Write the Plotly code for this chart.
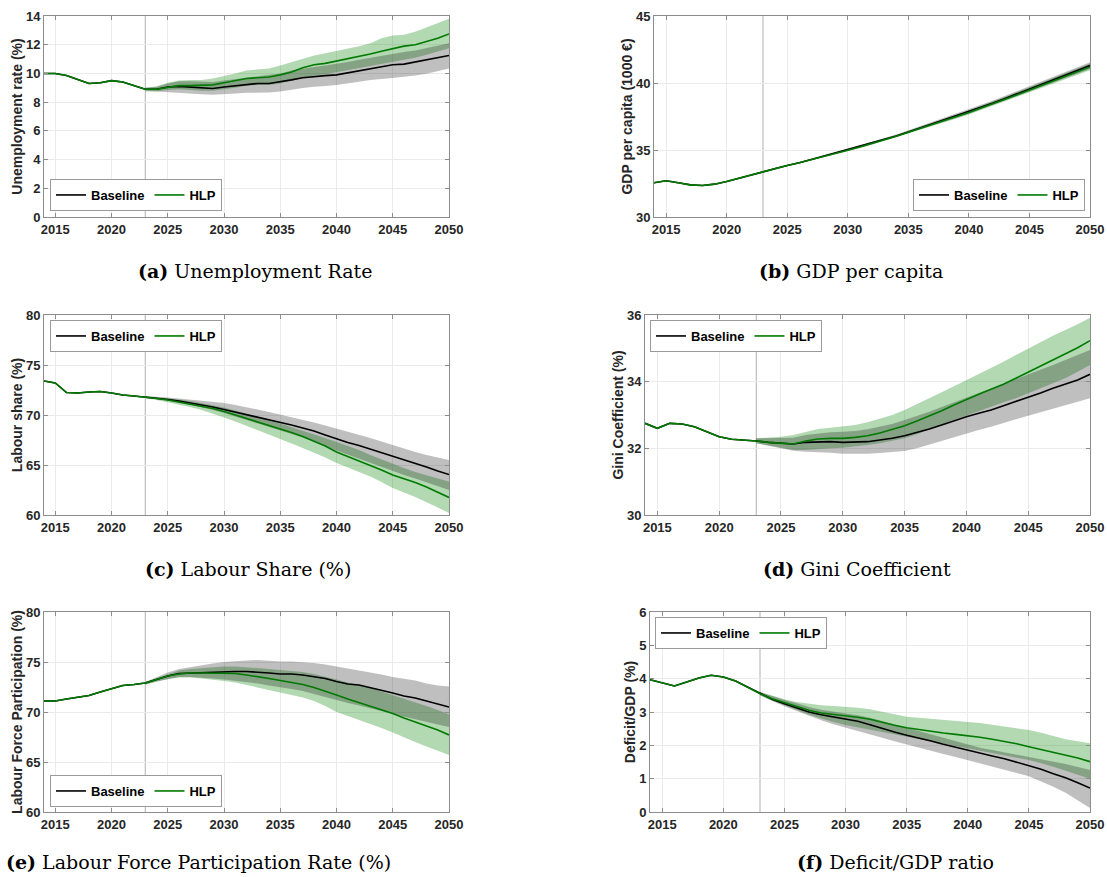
import plotly.graph_objects as go

W, H = 1107, 877

years = list(range(2014, 2051))
band_years = list(range(2023, 2051))

# ---------------- (a) Unemployment rate ----------------
unemp_base = [10.0, 10.0, 9.85, 9.55, 9.3, 9.35, 9.5, 9.4, 9.15, 8.9,
              8.9, 9.05, 9.1, 9.05, 8.95, 8.95, 9.05, 9.15, 9.25, 9.3, 9.3, 9.4, 9.55, 9.7,
              9.8, 9.85, 9.9, 10.05, 10.2, 10.35, 10.45, 10.6, 10.65, 10.8, 10.95, 11.1, 11.25]
unemp_hlp = [10.0, 10.0, 9.85, 9.55, 9.3, 9.35, 9.5, 9.4, 9.15, 8.9,
             8.9, 9.05, 9.15, 9.15, 9.15, 9.2, 9.35, 9.5, 9.65, 9.7, 9.75, 9.9, 10.1, 10.4,
             10.6, 10.7, 10.85, 11.0, 11.15, 11.35, 11.55, 11.75, 11.9, 12.0, 12.2, 12.45, 12.75]
unemp_base_lo = [8.8, 8.75, 8.72, 8.65, 8.6, 8.55, 8.52, 8.55, 8.6, 8.65, 8.68, 8.68, 8.75, 8.85,
                 8.98, 9.08, 9.12, 9.2, 9.3, 9.42, 9.55, 9.62, 9.68, 9.75, 9.85, 9.98, 10.15, 10.35]
unemp_base_hi = [9.0, 9.05, 9.3, 9.45, 9.45, 9.4, 9.4, 9.5, 9.6, 9.75, 9.85, 9.9, 10.0, 10.2,
                 10.35, 10.45, 10.55, 10.65, 10.8, 10.95, 11.1, 11.25, 11.4, 11.5, 11.6, 11.75, 11.9, 12.1]
unemp_hlp_lo = [8.75, 8.75, 8.85, 8.9, 8.85, 8.8, 8.8, 8.9, 9.0, 9.15, 9.2, 9.2, 9.3, 9.5,
                9.7, 9.85, 9.95, 10.05, 10.2, 10.35, 10.5, 10.65, 10.8, 10.95, 11.1, 11.3, 11.5, 11.75]
unemp_hlp_hi = [9.0, 9.1, 9.35, 9.5, 9.55, 9.55, 9.65, 9.8, 10.0, 10.2, 10.3, 10.35, 10.55, 10.8,
                11.05, 11.25, 11.4, 11.55, 11.7, 11.9, 12.1, 12.45, 12.65, 12.7, 12.9, 13.2, 13.5, 13.8]

# ---------------- (b) GDP per capita ----------------
gdp_base = [32.55, 32.7, 32.55, 32.4, 32.35, 32.45, 32.65, 32.9, 33.15, 33.4,
            33.65, 33.85, 34.05, 34.3, 34.5, 34.75, 35.0, 35.25, 35.5, 35.8, 36.05, 36.35, 36.65, 36.95,
            37.25, 37.55, 37.85, 38.2, 38.5, 38.85, 39.2, 39.55, 39.9, 40.25, 40.6, 40.95, 41.3]
gdp_hlp = [32.55, 32.7, 32.55, 32.4, 32.35, 32.45, 32.65, 32.9, 33.15, 33.4,
           33.65, 33.85, 34.05, 34.28, 34.48, 34.73, 34.98, 35.23, 35.48, 35.77, 36.02, 36.32, 36.61, 36.91,
           37.21, 37.5, 37.8, 38.14, 38.44, 38.79, 39.13, 39.48, 39.83, 40.17, 40.52, 40.86, 41.2]
gdp_base_lo = [33.38, 33.62, 33.82, 34.01, 34.25, 34.45, 34.69, 34.93, 35.17, 35.42, 35.71, 35.95, 36.24, 36.54,
               36.83, 37.12, 37.41, 37.7, 38.04, 38.33, 38.67, 39.01, 39.35, 39.69, 40.03, 40.37, 40.71, 41.05]
gdp_base_hi = [33.42, 33.68, 33.88, 34.09, 34.35, 34.56, 34.81, 35.07, 35.33, 35.59, 35.9, 36.16, 36.47, 36.78,
               37.09, 37.4, 37.71, 38.02, 38.38, 38.69, 39.05, 39.41, 39.77, 40.13, 40.49, 40.85, 41.21, 41.55]
gdp_hlp_lo = [33.38, 33.62, 33.82, 34.01, 34.23, 34.43, 34.67, 34.91, 35.15, 35.4, 35.68, 35.92, 36.21, 36.5,
              36.79, 37.08, 37.36, 37.65, 37.98, 38.27, 38.61, 38.94, 39.28, 39.62, 39.95, 40.29, 40.62, 40.95]
gdp_hlp_hi = [33.42, 33.68, 33.88, 34.09, 34.33, 34.54, 34.79, 35.05, 35.31, 35.57, 35.86, 36.12, 36.43, 36.73,
              37.04, 37.34, 37.65, 37.95, 38.3, 38.62, 38.97, 39.33, 39.69, 40.05, 40.4, 40.76, 41.11, 41.45]

# ---------------- (c) Labour share ----------------
ls_base = [73.4, 73.2, 72.25, 72.2, 72.3, 72.35, 72.2, 72.0, 71.9, 71.8,
           71.7, 71.55, 71.4, 71.2, 71.05, 70.8, 70.55, 70.3, 70.05, 69.8, 69.55, 69.3, 69.0, 68.7,
           68.4, 68.0, 67.6, 67.25, 66.95, 66.6, 66.2, 65.85, 65.5, 65.15, 64.8, 64.4, 64.05]
ls_hlp = [73.4, 73.2, 72.25, 72.2, 72.3, 72.35, 72.2, 72.0, 71.9, 71.8,
          71.65, 71.5, 71.3, 71.1, 70.9, 70.65, 70.35, 70.0, 69.7, 69.35, 69.0, 68.6, 68.25, 67.85,
          67.4, 66.9, 66.3, 65.85, 65.45, 65.0, 64.5, 64.0, 63.65, 63.25, 62.8, 62.3, 61.75]
ls_base_lo = [71.7, 71.6, 71.45, 71.25, 71.05, 70.8, 70.5, 70.2, 69.9, 69.55, 69.2, 68.85, 68.45, 68.1,
              67.75, 67.35, 66.9, 66.45, 66.05, 65.65, 65.25, 64.8, 64.4, 64.0, 63.65, 63.3, 62.9, 62.5]
ls_base_hi = [71.9, 71.85, 71.75, 71.65, 71.55, 71.45, 71.35, 71.2, 71.0, 70.8, 70.55, 70.3, 70.05, 69.8,
              69.55, 69.25, 68.95, 68.65, 68.35, 68.05, 67.7, 67.35, 67.0, 66.6, 66.3, 66.0, 65.75, 65.5]
ls_hlp_lo = [71.7, 71.5, 71.3, 71.05, 70.8, 70.5, 70.15, 69.75, 69.35, 68.95, 68.5, 68.05, 67.6, 67.15,
             66.7, 66.25, 65.75, 65.2, 64.75, 64.3, 63.85, 63.3, 62.7, 62.25, 61.8, 61.3, 60.75, 60.2]
ls_hlp_hi = [71.9, 71.8, 71.7, 71.55, 71.4, 71.2, 71.0, 70.75, 70.45, 70.15, 69.85, 69.5, 69.15, 68.8,
             68.45, 68.1, 67.7, 67.3, 66.9, 66.5, 66.0, 65.55, 65.1, 64.7, 64.3, 63.95, 63.65, 63.35]

# ---------------- (d) Gini coefficient ----------------
gini_base = [32.75, 32.6, 32.75, 32.73, 32.65, 32.5, 32.35, 32.27, 32.25, 32.22,
             32.18, 32.15, 32.13, 32.18, 32.2, 32.2, 32.18, 32.18, 32.2, 32.25, 32.3, 32.38, 32.47, 32.58,
             32.7, 32.83, 32.95, 33.05, 33.15, 33.28, 33.4, 33.53, 33.66, 33.8, 33.92, 34.05, 34.22]
gini_hlp = [32.75, 32.6, 32.75, 32.73, 32.65, 32.5, 32.35, 32.27, 32.25, 32.22,
            32.18, 32.15, 32.13, 32.22, 32.28, 32.3, 32.3, 32.33, 32.38, 32.46, 32.56, 32.68, 32.82, 32.97,
            33.13, 33.3, 33.47, 33.62, 33.77, 33.92, 34.1, 34.28, 34.46, 34.65, 34.83, 35.02, 35.23]
gini_base_lo = [32.15, 32.08, 32.0, 31.93, 31.9, 31.88, 31.87, 31.84, 31.83, 31.84, 31.86, 31.88, 31.92, 32.0,
                32.1, 32.2, 32.32, 32.44, 32.55, 32.65, 32.75, 32.87, 32.98, 33.1, 33.2, 33.3, 33.4, 33.5]
gini_base_hi = [32.3, 32.3, 32.3, 32.32, 32.4, 32.45, 32.48, 32.5, 32.52, 32.57, 32.64, 32.73, 32.85, 32.97,
                33.1, 33.24, 33.38, 33.52, 33.65, 33.78, 33.92, 34.06, 34.2, 34.35, 34.5, 34.65, 34.8, 34.95]
gini_hlp_lo = [32.15, 32.1, 32.02, 31.95, 31.95, 31.97, 32.0, 32.02, 32.05, 32.1, 32.15, 32.22, 32.3, 32.42,
               32.55, 32.7, 32.85, 33.0, 33.12, 33.25, 33.38, 33.5, 33.65, 33.8, 33.95, 34.1, 34.3, 34.5]
gini_hlp_hi = [32.3, 32.32, 32.35, 32.4, 32.5, 32.58, 32.62, 32.65, 32.7, 32.78, 32.88, 33.0, 33.15, 33.32,
               33.5, 33.68, 33.86, 34.04, 34.22, 34.4, 34.6, 34.8, 35.0, 35.2, 35.38, 35.55, 35.72, 35.92]

# ---------------- (e) Labour force participation ----------------
lfp_base = [71.1, 71.1, 71.3, 71.45, 71.65, 72.0, 72.35, 72.65, 72.75, 72.9,
            73.25, 73.6, 73.85, 73.9, 73.95, 74.0, 74.05, 74.05, 74.05, 74.0, 73.9, 73.8, 73.8, 73.7,
            73.55, 73.35, 73.05, 72.8, 72.7, 72.45, 72.2, 71.9, 71.6, 71.4, 71.1, 70.8, 70.5]
lfp_hlp = [71.1, 71.1, 71.3, 71.45, 71.65, 72.0, 72.35, 72.65, 72.75, 72.9,
           73.25, 73.6, 73.8, 73.9, 73.9, 73.9, 73.9, 73.85, 73.7, 73.55, 73.35, 73.15, 72.95, 72.75,
           72.45, 72.1, 71.7, 71.3, 70.95, 70.6, 70.25, 69.85, 69.4, 69.0, 68.65, 68.2, 67.7]
lfp_base_lo = [72.75, 73.05, 73.3, 73.5, 73.5, 73.45, 73.35, 73.25, 73.15, 73.0, 72.85, 72.65, 72.45, 72.3,
               72.1, 71.85, 71.55, 71.2, 70.9, 70.65, 70.4, 70.1, 69.8, 69.55, 69.3, 69.0, 68.75, 68.5]
lfp_base_hi = [73.0, 73.45, 73.95, 74.3, 74.5, 74.65, 74.85, 75.0, 75.1, 75.15, 75.2, 75.1, 75.05, 75.05,
               75.0, 74.9, 74.75, 74.55, 74.35, 74.2, 74.0, 73.75, 73.5, 73.35, 73.15, 72.85, 72.65, 72.55]
lfp_hlp_lo = [72.75, 73.0, 73.3, 73.45, 73.45, 73.35, 73.25, 73.1, 72.95, 72.75, 72.5, 72.2, 71.95, 71.7,
              71.45, 71.1, 70.6, 70.0, 69.6, 69.2, 68.8, 68.4, 67.95, 67.5, 67.0, 66.55, 66.1, 65.7]
lfp_hlp_hi = [73.0, 73.4, 73.8, 74.15, 74.3, 74.4, 74.5, 74.55, 74.55, 74.5, 74.4, 74.3, 74.2, 74.1,
              74.0, 73.8, 73.55, 73.25, 72.95, 72.7, 72.4, 72.05, 71.7, 71.35, 71.0, 70.6, 70.2, 69.75]

# ---------------- (f) Deficit / GDP ----------------
def_base = [3.97, 3.88, 3.78, 3.9, 4.02, 4.1, 4.05, 3.93, 3.75, 3.55,
            3.38, 3.25, 3.12, 3.0, 2.92, 2.86, 2.8, 2.72, 2.62, 2.5, 2.4, 2.3, 2.22, 2.13,
            2.03, 1.94, 1.84, 1.76, 1.68, 1.6, 1.5, 1.4, 1.28, 1.15, 1.03, 0.88, 0.72]
def_hlp = [3.97, 3.88, 3.78, 3.9, 4.02, 4.1, 4.05, 3.93, 3.75, 3.55,
           3.4, 3.28, 3.18, 3.05, 2.97, 2.93, 2.89, 2.84, 2.78, 2.68, 2.6, 2.53, 2.47, 2.42,
           2.37, 2.33, 2.29, 2.24, 2.18, 2.12, 2.05, 1.96, 1.88, 1.8, 1.72, 1.62, 1.51]
def_base_lo = [3.5, 3.33, 3.17, 3.03, 2.88, 2.75, 2.63, 2.51, 2.42, 2.33, 2.23, 2.12, 2.01, 1.92,
               1.83, 1.74, 1.65, 1.56, 1.47, 1.37, 1.27, 1.17, 1.07, 0.92, 0.76, 0.58, 0.36, 0.12]
def_base_hi = [3.6, 3.47, 3.36, 3.26, 3.15, 3.07, 3.02, 2.96, 2.9, 2.83, 2.73, 2.62, 2.51, 2.42,
               2.32, 2.22, 2.11, 2.01, 1.93, 1.86, 1.79, 1.72, 1.66, 1.6, 1.52, 1.44, 1.35, 1.26]
def_hlp_lo = [3.5, 3.33, 3.2, 3.07, 2.92, 2.8, 2.7, 2.61, 2.54, 2.47, 2.39, 2.32, 2.26, 2.19,
              2.12, 2.05, 1.98, 1.91, 1.84, 1.77, 1.7, 1.63, 1.56, 1.46, 1.36, 1.25, 1.12, 1.0]
def_hlp_hi = [3.6, 3.48, 3.38, 3.3, 3.24, 3.2, 3.18, 3.16, 3.13, 3.08, 3.0, 2.93, 2.86, 2.83,
              2.8, 2.76, 2.73, 2.71, 2.67, 2.62, 2.57, 2.52, 2.46, 2.38, 2.28, 2.18, 2.12, 2.06]

x_ticks = [2015, 2020, 2025, 2030, 2035, 2040, 2045, 2050]
scenario_names = ["Baseline", "HLP"]
projection_start = 2023

# ---------------- layout settings (pixels) ----------------
panels = [
    dict(base=unemp_base, hlp=unemp_hlp, blo=unemp_base_lo, bhi=unemp_base_hi, hlo=unemp_hlp_lo, hhi=unemp_hlp_hi,
         box=(44, 449, 16, 217), yr=[0, 14], dt=2, ylab="Unemployment rate (%)",
         leg=(50, 211, "left", "bottom"), cap="<b>(a)</b> Unemployment Rate", cpos=(255, 271)),
    dict(base=gdp_base, hlp=gdp_hlp, blo=gdp_base_lo, bhi=gdp_base_hi, hlo=gdp_hlp_lo, hhi=gdp_hlp_hi,
         box=(654, 1090, 16, 217), yr=[30, 45], dt=5, ylab="GDP per capita (1000 €)",
         leg=(1085, 211, "right", "bottom"), cap="<b>(b)</b> GDP per capita", cpos=(851, 271)),
    dict(base=ls_base, hlp=ls_hlp, blo=ls_base_lo, bhi=ls_base_hi, hlo=ls_hlp_lo, hhi=ls_hlp_hi,
         box=(44, 449, 315, 515), yr=[60, 80], dt=5, ylab="Labour share (%)",
         leg=(50, 320, "left", "top"), cap="<b>(c)</b> Labour Share (%)", cpos=(248, 569)),
    dict(base=gini_base, hlp=gini_hlp, blo=gini_base_lo, bhi=gini_base_hi, hlo=gini_hlp_lo, hhi=gini_hlp_hi,
         box=(645, 1090, 315, 515), yr=[30, 36], dt=2, ylab="Gini Coefficient (%)",
         leg=(650, 320, "left", "top"), cap="<b>(d)</b> Gini Coefficient", cpos=(857, 569)),
    dict(base=lfp_base, hlp=lfp_hlp, blo=lfp_base_lo, bhi=lfp_base_hi, hlo=lfp_hlp_lo, hhi=lfp_hlp_hi,
         box=(44, 449, 612, 812), yr=[60, 80], dt=5, ylab="Labour Force Participation (%)",
         leg=(50, 807, "left", "bottom"), cap="<b>(e)</b> Labour Force Participation Rate (%)", cpos=(198, 862)),
    dict(base=def_base, hlp=def_hlp, blo=def_base_lo, bhi=def_base_hi, hlo=def_hlp_lo, hhi=def_hlp_hi,
         box=(650, 1090, 612, 812), yr=[0, 6], dt=1, ylab="Deficit/GDP (%)",
         leg=(655, 617, "left", "top"), cap="<b>(f)</b> Deficit/GDP ratio", cpos=(895, 862)),
]

GREEN_LINE = "#007a00"
GREEN_FILL = "rgba(0,128,0,0.30)"
GRAY_FILL = "rgba(0,0,0,0.25)"
AX_COLOR = "#8c8c8c"
TXT = "#262626"
SANS = "Liberation Sans, Arial, sans-serif"
SERIF = "DejaVu Serif, Liberation Serif, serif"

fig = go.Figure()
layout_upd = {}
shapes = []
annotations = []

for i, p in enumerate(panels, start=1):
    sfx = "" if i == 1 else str(i)
    xa, ya = "x" + sfx, "y" + sfx
    lg = "legend" + sfx
    x0, x1, ytop, ybot = p["box"]

    band_x = band_years + band_years[::-1]
    fig.add_trace(go.Scatter(x=band_x, y=p["hhi"] + p["hlo"][::-1], fill="toself", fillcolor=GREEN_FILL,
                             line=dict(width=0), mode="lines", hoverinfo="skip", showlegend=False,
                             xaxis=xa, yaxis=ya))
    fig.add_trace(go.Scatter(x=band_x, y=p["bhi"] + p["blo"][::-1], fill="toself", fillcolor=GRAY_FILL,
                             line=dict(width=0), mode="lines", hoverinfo="skip", showlegend=False,
                             xaxis=xa, yaxis=ya))
    fig.add_trace(go.Scatter(x=years, y=p["base"], mode="lines", name=scenario_names[0],
                             line=dict(color="black", width=1.6), xaxis=xa, yaxis=ya, legend=lg))
    fig.add_trace(go.Scatter(x=years, y=p["hlp"], mode="lines", name=scenario_names[1],
                             line=dict(color=GREEN_LINE, width=1.6), xaxis=xa, yaxis=ya, legend=lg))

    common = dict(showgrid=True, gridcolor="#ebebeb", gridwidth=1, zeroline=False,
                  showline=True, linecolor=AX_COLOR, linewidth=1, mirror="allticks",
                  ticks="inside", ticklen=4, tickcolor=AX_COLOR, automargin=False,
                  tickfont=dict(family=SANS, size=13, color=TXT, weight="bold"))
    layout_upd["xaxis" + sfx] = dict(common, domain=[x0 / W, x1 / W], range=[2014, 2050],
                                     tickvals=x_ticks, anchor=ya)
    layout_upd["yaxis" + sfx] = dict(common, domain=[1 - ybot / H, 1 - ytop / H], range=p["yr"],
                                     dtick=p["dt"], tick0=0, anchor=xa,
                                     title=dict(text=p["ylab"], standoff=0,
                                                font=dict(family=SANS, size=14, color=TXT, weight="bold")))
    lx, ly, lxa, lya = p["leg"]
    layout_upd[lg] = dict(x=lx / W, y=1 - ly / H, xanchor=lxa, yanchor=lya, orientation="h",
                          bgcolor="white", bordercolor="#9a9a9a", borderwidth=1, itemwidth=30,
                          font=dict(family=SANS, size=13, color="black", weight="bold"),
                          tracegroupgap=0)

    shapes.append(dict(type="line", xref=xa, yref=ya + " domain", x0=projection_start, x1=projection_start,
                       y0=0, y1=1, line=dict(color="#b0b0b0", width=1), layer="below"))
    cx, cy = p["cpos"]
    annotations.append(dict(text=p["cap"], xref="paper", yref="paper", x=cx / W, y=1 - cy / H,
                            xanchor="center", yanchor="middle", showarrow=False,
                            font=dict(family=SERIF, size=19, color="black")))

fig.update_layout(width=W, height=H, margin=dict(l=0, r=0, t=0, b=0, autoexpand=False),
                  paper_bgcolor="white", plot_bgcolor="white",
                  shapes=shapes, annotations=annotations, **layout_upd)

fig.write_html("out.html", config={"displayModeBar": False},
               post_script="document.body.style.margin='0';document.body.style.overflow='hidden';")
